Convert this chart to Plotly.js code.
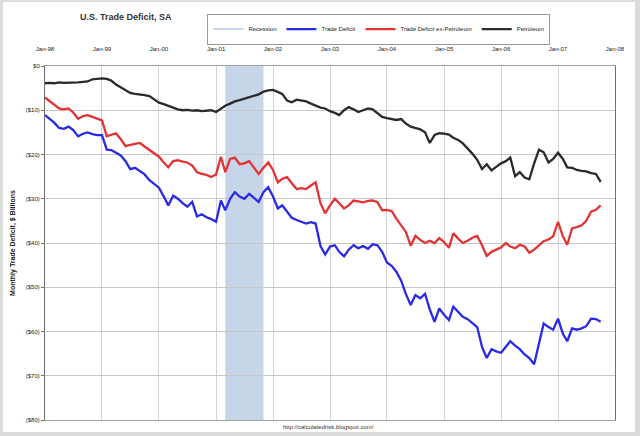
<!DOCTYPE html>
<html>
<head>
<meta charset="utf-8">
<script src="https://cdn.plot.ly/plotly-3.0.1.min.js"></script>
<style>
  html, body { margin: 0; padding: 0; background: #dcdcdc; width: 640px; height: 436px; overflow: hidden; }
  #chart { position: absolute; left: 3px; top: 2px; width: 632px; height: 430px; background: #fff; }
</style>
</head>
<body>
<div id="chart"></div>
<script>
// ---- data (monthly, $ billions, SA), Jan 1998 .. Oct 2007 ----
const firstMonth = '1998-01';
const monthCount = 118;

const tradeDeficit = [
  -11.1,-12.0,-12.8,-14.0,-14.2,-13.7,-14.5,-15.9,-15.3,-15.0,-15.4,-15.6,
  -15.6,-18.9,-19.0,-19.6,-20.2,-21.5,-23.3,-23.0,-23.7,-24.5,-25.8,-26.7,
  -27.5,-29.5,-31.5,-29.3,-30.0,-31.0,-31.8,-30.7,-34.0,-33.5,-34.2,-34.6,
  -35.2,-30.4,-32.6,-30.0,-28.5,-29.5,-30.0,-28.9,-29.8,-30.7,-28.5,-27.4,
  -29.5,-32.2,-31.5,-33.0,-34.3,-34.8,-35.2,-35.6,-35.3,-35.6,-40.7,-42.6,
  -40.8,-40.5,-42.0,-43.0,-41.5,-40.5,-41.2,-40.7,-41.3,-40.3,-40.5,-42.0,
  -44.4,-45.2,-46.5,-48.5,-51.5,-54.0,-51.8,-52.5,-51.5,-55.0,-57.8,-54.8,
  -56.2,-57.4,-54.4,-55.5,-56.7,-57.2,-58.0,-59.0,-63.5,-66.0,-64.0,-64.5,
  -64.8,-63.5,-62.2,-63.2,-64.0,-65.2,-66.0,-67.4,-63.0,-58.2,-59.0,-59.6,
  -57.1,-60.5,-62.2,-59.3,-59.6,-59.3,-58.8,-57.1,-57.2,-57.8
];

const exPetroleum = [
  -7.1,-8.0,-8.8,-9.6,-9.8,-9.6,-10.5,-11.9,-11.3,-11.1,-11.5,-11.9,
  -12.3,-15.9,-15.5,-15.2,-16.5,-18.1,-17.8,-17.6,-17.4,-18.2,-19.0,-19.6,
  -20.5,-21.8,-22.9,-21.5,-21.3,-21.6,-21.8,-22.5,-24.0,-24.4,-24.6,-25.1,
  -24.5,-20.5,-24.0,-21.0,-20.7,-22.2,-22.0,-21.5,-23.0,-24.4,-23.0,-21.8,
  -23.5,-26.3,-25.5,-25.1,-26.5,-27.8,-27.6,-27.8,-27.0,-26.3,-31.0,-33.3,
  -31.5,-30.0,-31.0,-32.2,-31.5,-30.4,-30.6,-30.8,-30.5,-30.4,-30.8,-32.6,
  -32.5,-32.8,-34.5,-36.0,-37.5,-40.6,-38.4,-39.3,-40.0,-39.5,-40.0,-38.9,
  -39.8,-41.1,-37.8,-39.0,-40.0,-39.5,-38.8,-38.4,-40.5,-42.9,-42.0,-41.5,
  -41.0,-40.0,-40.8,-41.2,-40.4,-40.8,-42.2,-41.5,-40.5,-39.6,-39.2,-38.5,
  -35.2,-38.5,-40.4,-36.7,-36.4,-36.0,-35.0,-32.9,-32.5,-31.5
];

const petroleum = [
  -3.9,-3.8,-3.9,-3.7,-3.8,-3.8,-3.7,-3.7,-3.6,-3.5,-3.0,-2.9,
  -2.8,-2.9,-3.3,-4.2,-4.8,-5.4,-6.1,-6.3,-6.4,-6.6,-6.8,-7.6,
  -8.3,-8.6,-9.0,-9.4,-9.8,-10.0,-9.9,-10.1,-10.0,-10.2,-10.1,-10.0,
  -10.4,-9.6,-9.0,-8.5,-8.0,-7.7,-7.4,-7.0,-6.8,-6.4,-5.8,-5.5,
  -5.4,-5.8,-6.3,-7.8,-8.2,-7.6,-7.8,-8.0,-8.5,-9.0,-9.4,-9.6,
  -10.2,-10.6,-11.1,-10.0,-9.3,-9.8,-10.4,-10.0,-9.6,-9.8,-10.6,-11.5,
  -11.8,-12.0,-12.2,-12.0,-13.0,-13.7,-14.0,-14.3,-15.0,-17.4,-15.6,-15.2,
  -15.3,-15.5,-16.2,-16.7,-17.5,-18.6,-19.8,-21.2,-23.3,-22.2,-23.6,-22.8,
  -22.0,-21.5,-20.7,-24.9,-24.0,-25.2,-25.6,-22.0,-18.9,-19.5,-21.8,-21.0,
  -19.6,-21.0,-22.9,-23.0,-23.5,-23.7,-23.8,-24.2,-24.4,-26.2
];

const recession = ['2001-03-01', '2001-11-01'];

const yTickVals = [0, -10, -20, -30, -40, -50, -60, -70, -80];
const yTickText = ['$0', '($10)', '($20)', '($30)', '($40)', '($50)', '($60)', '($70)', '($80)'];

const xTickVals = ['1998-01-01','1999-01-01','2000-01-01','2001-01-01','2002-01-01','2003-01-01',
                   '2004-01-01','2005-01-01','2006-01-01','2007-01-01','2008-01-01'];
const xTickText = ['Jan-98','Jan-99','Jan-00','Jan-01','Jan-02','Jan-03','Jan-04','Jan-05','Jan-06','Jan-07','Jan-08'];

// month dates (category axis values)
const months = [];
{
  let y = parseInt(firstMonth.slice(0, 4)), m = parseInt(firstMonth.slice(5, 7));
  for (let i = 0; i < monthCount; i++) {
    months.push(y + '-' + String(m).padStart(2, '0') + '-01');
    m++; if (m > 12) { m = 1; y++; }
  }
}

const FONT = 'Liberation Sans, Arial, sans-serif';
const recessionColor = '#c6d6e8';

const traces = [
  { x: [null], y: [null], type: 'scatter', mode: 'lines', name: 'Recession',
    line: { color: recessionColor, width: 2 } },
  { x: months, y: tradeDeficit, type: 'scatter', mode: 'lines', name: 'Trade Deficit',
    line: { color: '#2a2ae6', width: 2.3 } },
  { x: months, y: exPetroleum, type: 'scatter', mode: 'lines', name: 'Trade Deficit ex-Petroleum',
    line: { color: '#e23232', width: 2.3 } },
  { x: months, y: petroleum, type: 'scatter', mode: 'lines', name: 'Petroleum',
    line: { color: '#2a2a2a', width: 2.3 } }
];

const layout = {
  width: 632, height: 430,
  margin: { l: 42, r: 20, t: 58, b: 12 },
  paper_bgcolor: '#ffffff',
  plot_bgcolor: '#ffffff',
  font: { family: FONT, size: 6, color: '#222' },
  title: { text: '<b>U.S. Trade Deficit, SA</b>', font: { family: FONT, size: 9, color: '#333' },
           xref: 'container', yref: 'container', x: 0.122, xanchor: 'left', y: 0.966, yanchor: 'middle' },
  showlegend: true,
  legend: {
    orientation: 'h', xref: 'paper', yref: 'paper', x: 0.285, xanchor: 'left', y: 1.148, yanchor: 'top',
    bordercolor: '#999', borderwidth: 1, bgcolor: '#fff',
    font: { family: FONT, size: 6, color: '#222' }, tracegroupgap: 0, itemwidth: 30
  },
  xaxis: {
    type: 'date', range: ['1998-01-01', '2008-01-01'], side: 'top',
    tickmode: 'array', tickvals: xTickVals, ticktext: xTickText,
    showgrid: true, gridcolor: '#d4d4d4', gridwidth: 1,
    showline: true, linecolor: '#a0a0a0', mirror: true, zeroline: false,
    ticks: '', tickfont: { family: FONT, size: 6, color: '#222' }, ticklabelstandoff: 12
  },
  yaxis: {
    range: [-80, 0], tickmode: 'array', tickvals: yTickVals, ticktext: yTickText,
    showgrid: true, gridcolor: '#c8c8c8', gridwidth: 1,
    showline: true, linecolor: '#707070', mirror: true, zeroline: false,
    ticks: 'outside', ticklen: 3, tickcolor: '#707070',
    tickfont: { family: FONT, size: 6, color: '#222' },
    title: { text: '<b>Monthly Trade Deficit, $ Billions</b>', font: { family: FONT, size: 7, color: '#222' }, standoff: 9 }
  },
  shapes: [
    { type: 'rect', xref: 'x', yref: 'paper', x0: recession[0], x1: recession[1], y0: 0, y1: 1,
      fillcolor: recessionColor, line: { width: 0 }, layer: 'below' }
  ],
  annotations: [
    { text: 'http://calculatedrisk.blogspot.com/', xref: 'paper', yref: 'paper', x: 0.498, y: -0.006,
      xanchor: 'center', yanchor: 'top', showarrow: false, font: { family: FONT, size: 6, color: '#333' } }
  ]
};

Plotly.newPlot('chart', traces, layout, { displayModeBar: false, staticPlot: true });
</script>
</body>
</html>
